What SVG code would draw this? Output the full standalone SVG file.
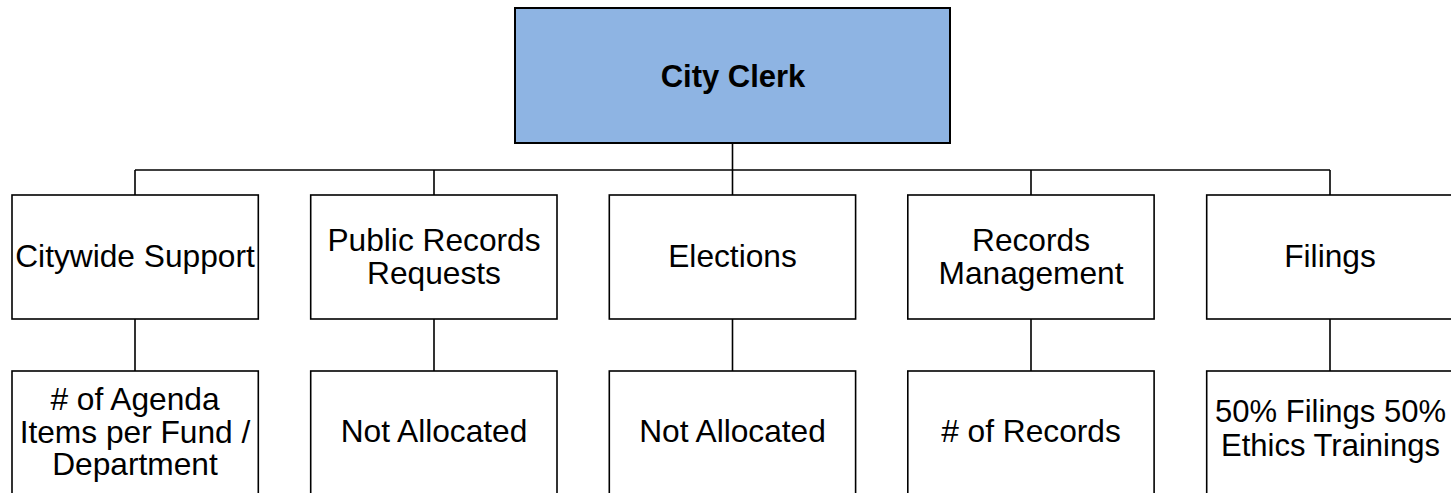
<svg xmlns="http://www.w3.org/2000/svg" width="1451" height="493" viewBox="0 0 1451 493">
  <style>
    .box { fill: #ffffff; stroke: #000000; stroke-width: 1.6; }
    .root { fill: #8eb4e3; stroke: #000000; stroke-width: 2; }
    .link { fill: none; stroke: #000000; stroke-width: 1.6; }
    text { font-family: "Liberation Sans", Arial, sans-serif; font-size: 31.7px; fill: #000000; text-anchor: middle; }
    .title { font-weight: bold; font-size: 31px; }
    .tight { font-size: 31px; }
  </style>
  <rect width="1451" height="493" fill="#ffffff"/>

  <!-- connectors -->
  <g id="connectors">
    <path class="link" d="M732.5 143 V170" stroke-width="2"/>
    <path class="link" d="M135 170 H1330"/>
    <path class="link" d="M135 170 V195 M434 170 V195 M732.5 170 V195 M1031 170 V195 M1330 170 V195"/>
    <path class="link" d="M135 319 V371 M434 319 V371 M732.5 319 V371 M1031 319 V371 M1330 319 V371"/>
  </g>

  <!-- root -->
  <g id="city-clerk">
    <rect class="root" x="515" y="8" width="435" height="135"/>
    <text class="title" x="733" y="86.5">City Clerk</text>
  </g>

  <!-- divisions -->
  <g id="citywide-support">
    <rect class="box" x="12" y="195" width="246.3" height="124"/>
    <text x="135" y="266.5">Citywide Support</text>
  </g>
  <g id="public-records-requests">
    <rect class="box" x="310.7" y="195" width="246.3" height="124"/>
    <text x="434" y="251">Public Records<tspan x="434" dy="32.5">Requests</tspan></text>
  </g>
  <g id="elections">
    <rect class="box" x="609.3" y="195" width="246.3" height="124"/>
    <text x="732.5" y="266.5">Elections</text>
  </g>
  <g id="records-management">
    <rect class="box" x="907.8" y="195" width="246.3" height="124"/>
    <text x="1031" y="251">Records<tspan x="1031" dy="32.5">Management</tspan></text>
  </g>
  <g id="filings">
    <rect class="box" x="1206.7" y="195" width="246.3" height="124"/>
    <text x="1330" y="266.5">Filings</text>
  </g>

  <!-- allocation bases -->
  <g id="citywide-support-basis">
    <rect class="box" x="12" y="371" width="246.3" height="140"/>
    <text x="135" y="410"># of Agenda<tspan x="135" dy="32.5">Items per Fund /</tspan><tspan x="135" dy="32.5">Department</tspan></text>
  </g>
  <g id="public-records-basis">
    <rect class="box" x="310.7" y="371" width="246.3" height="140"/>
    <text x="434" y="442">Not Allocated</text>
  </g>
  <g id="elections-basis">
    <rect class="box" x="609.3" y="371" width="246.3" height="140"/>
    <text x="732.5" y="442">Not Allocated</text>
  </g>
  <g id="records-management-basis">
    <rect class="box" x="907.8" y="371" width="246.3" height="140"/>
    <text x="1031" y="442"># of Records</text>
  </g>
  <g id="filings-basis">
    <rect class="box" x="1206.7" y="371" width="246.3" height="140"/>
    <text class="tight" x="1330.5" y="421.5">50% Filings 50%<tspan x="1330.5" dy="34.5">Ethics Trainings</tspan></text>
  </g>
</svg>
